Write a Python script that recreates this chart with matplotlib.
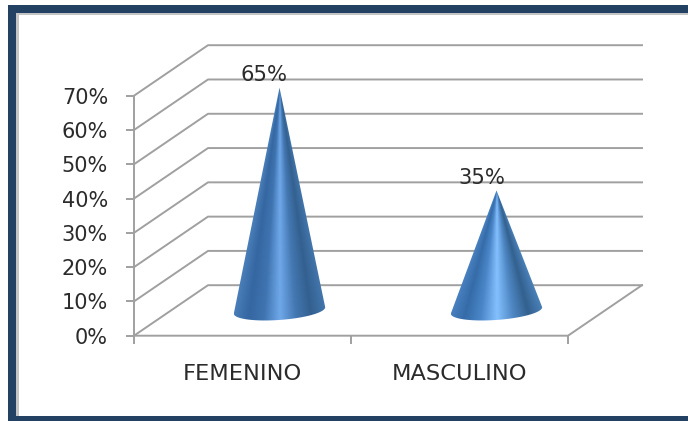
import numpy as np
import matplotlib
matplotlib.use("Agg")
import matplotlib.pyplot as plt
from matplotlib.colors import LinearSegmentedColormap
from matplotlib.patches import PathPatch, Rectangle
from matplotlib.path import Path

categorias = ["FEMENINO", "MASCULINO"]
valores = [65, 35]
etiquetas = ["65%", "35%"]
ticks_y = [0, 10, 20, 30, 40, 50, 60, 70]
ticks_y_txt = ["0%", "10%", "20%", "30%", "40%", "50%", "60%", "70%"]

W, H = 688, 421
GRIS = "#a0a0a0"
AZUL_MARCO = "#224163"
TEXTO = "#2b2b2b"

fig = plt.figure(figsize=(W / 100, H / 100), dpi=100, facecolor="white")

# marco del recuadro, en pixeles
fondo = fig.add_axes([0, 0, 1, 1])
fondo.set_xlim(0, W)
fondo.set_ylim(H, 0)
fondo.axis("off")
fondo.add_patch(Rectangle((8, 5), W - 8, H - 5, fc=AZUL_MARCO, ec="none"))
fondo.add_patch(Rectangle((16, 13), W - 16, 403, fc="#c4c4c4", ec="none"))
fondo.add_patch(Rectangle((19, 14.5), W - 19, 401, fc="white", ec="none"))

# plano frontal del grafico
x0, x1, y0, y1 = 134, 568, 335.7, 95.7
ax = fig.add_axes([x0 / W, 1 - y0 / H, (x1 - x0) / W, (y0 - y1) / H])
ax.set_xlim(0, 2)
ax.set_ylim(0, 70)
ax.patch.set_alpha(0)
for s in ax.spines.values():
    s.set_visible(False)
ax.spines["left"].set_visible(True)
ax.spines["left"].set_color(GRIS)
ax.spines["left"].set_linewidth(1.4)

# desplazamiento de la profundidad 3D en unidades de datos
dx = 74 / ((x1 - x0) / 2)
dy = 50.5 / ((y0 - y1) / 70)

for t in ticks_y:
    ax.plot([0, dx, 2 + dx], [t, t + dy, t + dy], color=GRIS, lw=1.4,
            clip_on=False, zorder=1)
ax.plot([0, 2, 2 + dx], [0, 0, dy], color=GRIS, lw=1.4, clip_on=False, zorder=1)

ax.set_yticks(ticks_y)
ax.set_yticklabels([])
ax.set_xticks([0, 1, 2])
ax.set_xticklabels([])
ax.tick_params(axis="y", length=6, width=1.4, color=GRIS)
ax.tick_params(axis="x", length=5.5, width=1.4, color=GRIS)
for t, txt in zip(ticks_y, ticks_y_txt):
    ax.annotate(txt, (0, t), xytext=(-26, -2), textcoords="offset pixels",
                ha="right", va="center", fontsize=15, color=TEXTO,
                annotation_clip=False)
for i, c in enumerate(categorias):
    ax.annotate(c, (i + 0.5, 0), xytext=(0, -38.5), textcoords="offset pixels",
                ha="center", va="center", fontsize=16.2, color=TEXTO,
                annotation_clip=False)

colores = [
    ["#4a7fba", "#3567a2", "#3f74b0", "#6fa8ea", "#4478b2", "#33608f", "#4376ad"],
    ["#4a82c2", "#356ca8", "#4a86c8", "#84c0ff", "#4f88c4", "#33618f", "#4a80b8"],
]

# conos: el degradado se estrecha con la silueta hasta el vertice
u = (x1 - x0) / 2
v = (y0 - y1) / 70
for i, val in enumerate(valores):
    cx = i + 0.5 + dx / 2
    cy = dy / 2
    a = 45.7 / u
    tilt = 3.2 / v
    b = 9.5 / v
    t = np.linspace(0, np.pi, 40)
    bx = cx + a * np.cos(t)
    by = cy + tilt * np.cos(t) - b * np.sin(t)
    verts = [(cx, val + cy)] + list(zip(bx, by)) + [(cx, val + cy)]
    codes = [Path.MOVETO] + [Path.LINETO] * 40 + [Path.CLOSEPOLY]
    silueta = PathPatch(Path(verts, codes), transform=ax.transData, fc="none", ec="none")
    ax.add_patch(silueta)
    cmap = LinearSegmentedColormap.from_list("cono", colores[i])

    base = cy - b - tilt
    gx, gy = np.meshgrid(np.linspace(cx - a, cx + a, 300), np.linspace(base, val + cy, 400))
    ancho = a * np.maximum(val + cy - gy, 1e-3) / val
    grad = np.clip((gx - cx) / ancho, -1, 1) * 0.5 + 0.5
    im = ax.imshow(grad, cmap=cmap, extent=[cx - a, cx + a, base, val + cy],
                   origin="lower", aspect="auto", zorder=3, vmin=0, vmax=1)
    im.set_clip_path(silueta)
    im.set_clip_box(fig.bbox)
    ax.annotate(etiquetas[i], (cx, val + cy), xytext=(-15, 12.5),
                textcoords="offset pixels", ha="center", va="center",
                fontsize=15.2, color=TEXTO, zorder=4, annotation_clip=False)

ax.set_xlim(0, 2)
ax.set_ylim(0, 70)

fig.savefig("out.png", dpi=100)
